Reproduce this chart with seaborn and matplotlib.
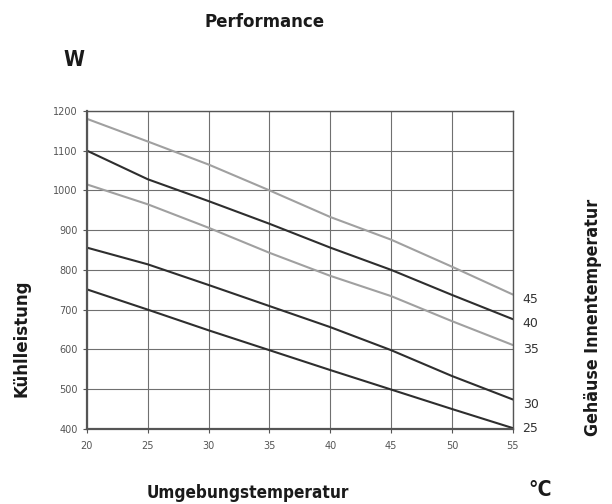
import pandas as pd
import numpy as np
import matplotlib
matplotlib.use("Agg")
import matplotlib.pyplot as plt
from matplotlib import font_manager
from matplotlib.font_manager import FontProperties
import seaborn as sns

# ambient temperature (x) and cooling capacity per enclosure temperature
ambient = [20, 25, 30, 35, 40, 45, 50, 55]
inner_45 = [1180, 1123, 1065, 1000, 933, 876, 808, 738]
inner_40 = [1100, 1028, 973, 916, 856, 800, 737, 676]
inner_35 = [1015, 965, 906, 843, 785, 734, 671, 611]
inner_30 = [856, 814, 762, 709, 656, 598, 533, 474]
inner_25 = [751, 700, 648, 598, 548, 499, 450, 402]
inner_labels = ['45', '40', '35', '30', '25']

series = [inner_45, inner_40, inner_35, inner_30, inner_25]
rows = []
for lab, vals in zip(inner_labels, series):
    for t, v in zip(ambient, vals):
        rows.append({'ambient': t, 'power': v, 'inner': lab})
df = pd.DataFrame(rows)

palette = {'45': '#a0a0a0', '40': '#2e2e2e', '35': '#a0a0a0',
           '30': '#2e2e2e', '25': '#2e2e2e'}

sns.set_style("white")
plt.rcParams['font.family'] = ['DejaVu Sans']

# look for a narrow bold face file for the headings, otherwise shrink DejaVu
narrow_file = None
for f in font_manager.fontManager.ttflist:
    n = f.name.lower() + ' ' + f.fname.lower()
    bold = f.weight in ('bold', 700, 'heavy', 800) or 'bold' in f.fname.lower()
    if ('narrow' in n or 'condensed' in n) and bold and f.style == 'normal' \
            and 'oblique' not in f.fname.lower() and 'italic' not in f.fname.lower():
        narrow_file = f.fname
        break


def head(size):
    if narrow_file:
        return FontProperties(fname=narrow_file, size=size * 0.95)
    return FontProperties(family='DejaVu Sans', weight='bold', size=size * 0.82)


fig = plt.figure(figsize=(6.12, 5.04), dpi=100)
ax = fig.add_axes([0.142, 0.149, 0.696, 0.631])

sns.lineplot(data=df, x='ambient', y='power', hue='inner', palette=palette,
             linewidth=1.5, legend=False, ax=ax)

ax.set_xlim(20, 55)
ax.set_ylim(400, 1200)
ax.set_xticks(range(20, 56, 5))
ax.set_yticks(range(400, 1201, 100))
ax.grid(True, color='#707070', linewidth=0.8)
for s in ax.spines.values():
    s.set_color('#555555')
    s.set_linewidth(1.0)
ax.spines['bottom'].set_linewidth(1.6)
ax.spines['left'].set_linewidth(1.6)
ax.tick_params(axis='both', labelsize=7, colors='#555555', length=3,
               direction='out', left=True, bottom=True)
ax.tick_params(axis='x', pad=6)
ax.set_xlabel('')
ax.set_ylabel('')

# curve labels on the right
for lab, vals in zip(inner_labels, series):
    ax.text(55.8, max(vals[-1] - 12, 400), lab, fontsize=9, color='#333333',
            va='center', ha='left', clip_on=False)

c = '#1a1a1a'
fig.text(265 / 612, 1 - 22 / 504, 'Performance', fontproperties=head(14),
         color=c, ha='center', va='center')
fig.text(74 / 612, 1 - 60 / 504, 'W', fontproperties=head(16),
         color=c, ha='center', va='center')
fig.text(248 / 612, 1 - 493 / 504, 'Umgebungstemperatur', fontproperties=head(13),
         color=c, ha='center', va='center')
fig.text(540 / 612, 1 - 490 / 504, '°C', fontproperties=head(16),
         color=c, ha='center', va='center')
fig.text(22 / 612, 1 - 338 / 504, 'Kühlleistung', fontproperties=head(14), rotation=90,
         color=c, ha='center', va='center')
fig.text(593 / 612, 1 - 317 / 504, 'Gehäuse Innentemperatur', fontproperties=head(13.5),
         rotation=90, color=c, ha='center', va='center')

fig.savefig('out.png', dpi=100)
